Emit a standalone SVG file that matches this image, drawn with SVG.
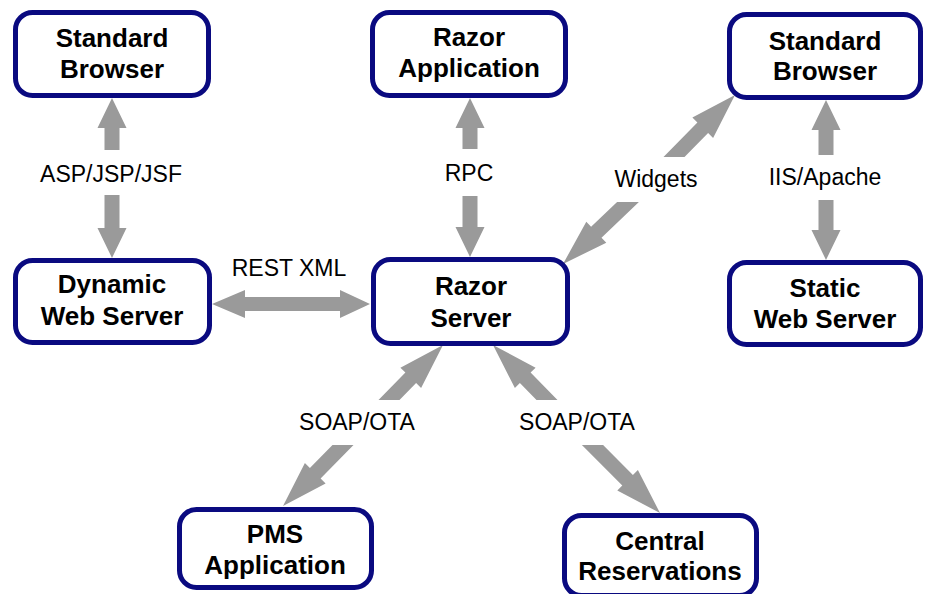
<svg xmlns="http://www.w3.org/2000/svg" width="929" height="594" viewBox="0 0 929 594">
<style>
.box{fill:#ffffff;stroke:#0a0a80;stroke-width:5}
.nt{font-family:"Liberation Sans",Arial,sans-serif;font-weight:bold;font-size:26px;fill:#000;text-anchor:middle}
.lt{font-family:"Liberation Sans",Arial,sans-serif;font-size:23px;fill:#000;text-anchor:middle}
.arr{fill:#9a9a9a;stroke:none}
</style>
<rect width="929" height="594" fill="#ffffff"/>
<g id="connectors">
  <!-- ASP/JSP/JSF -->
  <polygon class="arr" points="112,98 126.5,128 119.5,128 119.5,150 104.5,150 104.5,128 97.5,128"/>
  <polygon class="arr" points="112,258 126.5,228 119.5,228 119.5,195 104.5,195 104.5,228 97.5,228"/>
  <!-- RPC -->
  <polygon class="arr" points="470,98 484.5,128 477.5,128 477.5,149 462.5,149 462.5,128 455.5,128"/>
  <polygon class="arr" points="470,257 484.5,227 477.5,227 477.5,196 462.5,196 462.5,227 455.5,227"/>
  <!-- IIS/Apache -->
  <polygon class="arr" points="826,100 840.5,130 833.5,130 833.5,155 818.5,155 818.5,130 811.5,130"/>
  <polygon class="arr" points="826,260 840.5,230 833.5,230 833.5,200 818.5,200 818.5,230 811.5,230"/>
  <!-- REST XML -->
  <polygon class="arr" points="212,304 245,290 245,297 340,297 340,290 370,304 340,318 340,311 245,311 245,318"/>
  <!-- Widgets -->
  <polygon class="arr" points="735,95 713.1,138 708.1,133.1 684.5,157 663.5,157 697.4,122.5 692.4,117.6"/>
  <polygon class="arr" points="563,264 586.3,221.8 591.1,226.8 617.1,202 638.9,202 601.5,237.7 606.3,242.7"/>
  <!-- SOAP/OTA left -->
  <polygon class="arr" points="443,345 421.1,388 416.1,383.1 399.5,400 378.5,400 405.4,372.6 400.4,367.7"/>
  <polygon class="arr" points="283,506 304.9,463 309.9,468 332.5,445 353.5,445 320.6,478.5 325.6,483.4"/>
  <!-- SOAP/OTA right -->
  <polygon class="arr" points="493,345 535.6,367.7 530.6,372.6 557.5,400 536.5,400 519.9,383.1 514.9,388"/>
  <polygon class="arr" points="660,513 617.3,490.6 622.3,485.6 581.9,445 603.1,445 632.9,475.1 637.9,470.1"/>
  <text class="lt" x="111" y="182">ASP/JSP/JSF</text>
  <text class="lt" x="469" y="181">RPC</text>
  <text class="lt" x="656" y="187">Widgets</text>
  <text class="lt" x="825" y="185">IIS/Apache</text>
  <text class="lt" x="289" y="276">REST XML</text>
  <text class="lt" x="357" y="430">SOAP/OTA</text>
  <text class="lt" x="577" y="430">SOAP/OTA</text>
</g>
<g id="standard-browser-left">
  <rect class="box" x="15.5" y="12.5" width="193" height="83" rx="17"/>
  <text class="nt" x="112" y="47">Standard</text>
  <text class="nt" x="112" y="78">Browser</text>
</g>
<g id="razor-application">
  <rect class="box" x="372.5" y="12.5" width="193" height="83" rx="17"/>
  <text class="nt" x="469" y="46">Razor</text>
  <text class="nt" x="469" y="77">Application</text>
</g>
<g id="standard-browser-right">
  <rect class="box" x="729.5" y="14.5" width="191" height="83" rx="17"/>
  <text class="nt" x="825" y="50">Standard</text>
  <text class="nt" x="825" y="80">Browser</text>
</g>
<g id="dynamic-web-server">
  <rect class="box" x="15.5" y="260.5" width="194" height="82" rx="17"/>
  <text class="nt" x="112" y="293">Dynamic</text>
  <text class="nt" x="112" y="325">Web Server</text>
</g>
<g id="razor-server">
  <rect class="box" x="373.5" y="259.5" width="194" height="84" rx="17"/>
  <text class="nt" x="471" y="295">Razor</text>
  <text class="nt" x="471" y="327">Server</text>
</g>
<g id="static-web-server">
  <rect class="box" x="729.5" y="262.5" width="191" height="82" rx="17"/>
  <text class="nt" x="825" y="297">Static</text>
  <text class="nt" x="825" y="328">Web Server</text>
</g>
<g id="pms-application">
  <rect class="box" x="179.5" y="509.5" width="192" height="78" rx="17"/>
  <text class="nt" x="275" y="543">PMS</text>
  <text class="nt" x="275" y="574">Application</text>
</g>
<g id="central-reservations">
  <rect class="box" x="564.5" y="515.5" width="192" height="80" rx="17"/>
  <text class="nt" x="660" y="550">Central</text>
  <text class="nt" x="660" y="580">Reservations</text>
</g>
</svg>
